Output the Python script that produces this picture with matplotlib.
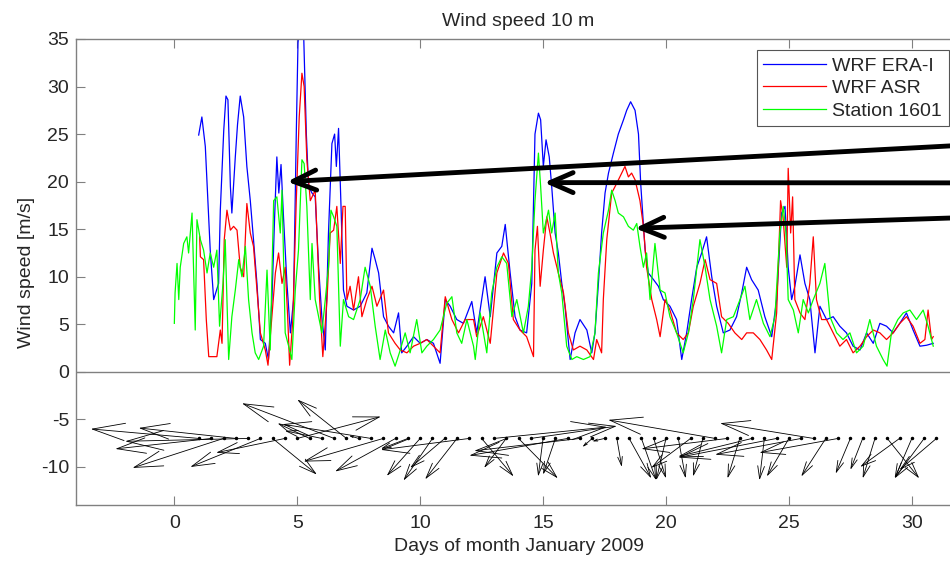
import matplotlib.pyplot as plt
import numpy as np

plt.rcParams['font.family'] = ['Liberation Sans', 'DejaVu Sans']
plt.rcParams['axes.unicode_minus'] = False

# WRF ERA-I (blue)
era_t = [0.99, 1.12, 1.26, 1.46, 1.60, 1.80, 1.87, 2.01, 2.10, 2.18, 2.28, 2.34, 2.48, 2.57, 2.68, 2.82,
         2.95, 3.09, 3.22, 3.36, 3.50, 3.70, 3.83, 3.97, 4.08, 4.17, 4.25, 4.34, 4.44, 4.58, 4.72, 4.85,
         4.96, 5.03, 5.12, 5.26, 5.37, 5.46, 5.60, 5.73, 5.87, 6.00, 6.14, 6.27, 6.41, 6.52, 6.59, 6.68,
         6.78, 6.88, 7.02, 7.29, 7.56, 7.83, 8.04, 8.17, 8.31, 8.51, 8.71, 8.92, 9.12, 9.25, 9.46, 9.73,
         10.00, 10.27, 10.54, 10.81, 11.02, 11.22, 11.49, 11.76, 12.10, 12.30, 12.64, 12.85, 13.12, 13.32,
         13.46, 13.66, 13.86, 14.06, 14.33, 14.54, 14.67, 14.81, 14.90, 15.01, 15.12, 15.25, 15.35, 15.49,
         15.62, 15.76, 15.89, 16.10, 16.30, 16.50, 16.78, 16.98, 17.11, 17.25, 17.38, 17.52, 17.66, 17.86,
         18.06, 18.27, 18.40, 18.56, 18.74, 18.88, 18.97, 19.05, 19.15, 19.28, 19.49, 19.69, 19.89, 20.16,
         20.43, 20.64, 20.84, 21.04, 21.25, 21.45, 21.65, 21.86, 22.06, 22.33, 22.60, 22.87, 23.08, 23.28,
         23.48, 23.75, 24.02, 24.30, 24.50, 24.70, 24.84, 24.97, 25.11, 25.24, 25.45, 25.65, 25.85, 26.06,
         26.26, 26.53, 26.80, 27.07, 27.34, 27.61, 27.89, 28.16, 28.43, 28.70, 28.97, 29.24, 29.51, 29.78,
         30.05, 30.33, 30.60, 30.87]
era_v = [24.9, 26.8, 23.7, 12.8, 7.6, 9.3, 17.0, 25.4, 29.0, 28.6, 19.5, 16.7, 22.6, 26.0, 29.0, 26.8,
         21.6, 18.0, 13.9, 9.3, 3.4, 3.0, 1.3, 7.6, 16.3, 22.6, 18.8, 21.8, 16.3, 9.3, 4.1, 7.6,
         25.0, 34.6, 37.0, 35.5, 25.0, 19.5, 18.8, 18.4, 11.0, 5.8, 2.3, 14.6, 24.0, 25.0, 21.6, 25.6,
         17.4, 8.6, 6.9, 6.5, 6.9, 8.3, 13.0, 11.8, 10.4, 5.8, 4.8, 4.1, 6.2, 2.0, 2.7, 3.7,
         3.0, 3.4, 3.0, 0.9, 7.6, 6.9, 5.5, 5.1, 7.4, 4.1, 10.0, 5.8, 12.5, 13.2,
         15.5, 10.4, 5.8, 4.4, 4.1, 9.3, 25.0, 27.2, 26.5, 21.6, 24.4, 22.6, 19.5, 14.6,
         12.5, 9.3, 6.9, 1.3, 4.1, 5.5, 4.4, 2.0, 4.1, 9.3, 14.6, 18.8, 20.9, 23.0,
         25.0, 26.5, 27.5, 28.4, 27.5, 25.0, 19.8, 16.7, 12.8, 10.4, 9.7, 9.0, 7.6, 6.9,
         5.5, 1.3, 4.1, 7.6, 11.0, 12.5, 14.2, 10.0, 6.9, 4.1, 4.4, 5.8, 8.3, 11.0,
         9.7, 8.6, 5.8, 3.7, 7.6, 16.7, 17.4, 11.0, 7.6, 9.0, 12.3, 9.3, 7.6, 2.0,
         6.9, 5.5, 5.8, 4.8, 4.1, 2.7, 2.3, 4.1, 3.0, 5.1, 4.8, 4.1, 5.1, 6.2,
         4.4, 2.7, 2.8, 3.0]

# WRF ASR (red)
asr_t = [1.03, 1.06, 1.19, 1.30, 1.40, 1.73, 1.87, 1.94, 2.03, 2.14, 2.28, 2.41, 2.55, 2.68, 2.82, 2.95,
         3.09, 3.22, 3.36, 3.50, 3.70, 3.81, 3.97, 4.11, 4.24, 4.38, 4.51, 4.61, 4.69, 4.82, 4.96, 5.08,
         5.19, 5.28, 5.39, 5.53, 5.73, 5.91, 6.04, 6.21, 6.34, 6.48, 6.61, 6.75, 6.86, 6.95, 7.02, 7.15,
         7.29, 7.49, 7.63, 7.83, 8.04, 8.24, 8.51, 8.71, 8.98, 9.19, 9.46, 9.73, 10.00, 10.27, 10.54, 10.81,
         11.02, 11.29, 11.56, 11.83, 12.17, 12.30, 12.57, 12.85, 13.12, 13.39, 13.59, 13.79, 14.06, 14.33,
         14.61, 14.67, 14.77, 14.88, 15.01, 15.15, 15.28, 15.42, 15.62, 15.83, 16.03, 16.23, 16.50, 16.78,
         17.05, 17.18, 17.38, 17.45, 17.59, 17.79, 17.99, 18.20, 18.33, 18.47, 18.60, 18.74, 18.94, 19.08,
         19.21, 19.42, 19.62, 19.76, 19.96, 20.16, 20.43, 20.70, 20.91, 21.11, 21.38, 21.59, 21.79, 22.06,
         22.26, 22.53, 22.80, 23.08, 23.28, 23.55, 23.82, 24.09, 24.30, 24.50, 24.66, 24.76, 24.91, 24.97,
         25.07, 25.15, 25.24, 25.45, 25.65, 25.85, 25.99, 26.12, 26.33, 26.53, 26.80, 27.07, 27.34, 27.61,
         27.89, 28.16, 28.43, 28.70, 28.97, 29.24, 29.51, 29.78, 30.05, 30.33, 30.53, 30.66, 30.80, 30.87]
asr_v = [14.2, 12.1, 11.8, 5.5, 1.6, 1.6, 4.4, 3.0, 13.9, 17.0, 14.9, 15.3, 14.9, 11.0, 10.0, 17.7,
         14.6, 13.2, 8.6, 4.1, 2.3, 0.7, 5.8, 10.4, 12.5, 9.3, 11.0, 5.8, 0.7, 5.5, 18.0, 26.8,
         31.4, 30.0, 22.3, 18.0, 19.1, 7.6, 1.6, 7.6, 14.6, 14.9, 17.4, 11.4, 17.4, 17.4, 7.6, 9.0,
         6.5, 10.0, 5.8, 7.6, 9.0, 6.9, 8.6, 4.1, 3.0, 2.3, 2.0, 2.7, 3.0, 3.4, 2.7, 2.0,
         7.9, 5.5, 4.1, 5.5, 5.5, 3.7, 5.8, 3.0, 10.4, 12.5, 11.4, 5.5, 4.4, 3.7,
         1.6, 12.8, 15.3, 9.0, 12.8, 16.3, 14.6, 12.5, 10.4, 8.3, 4.1, 2.3, 2.7, 2.3,
         1.3, 3.4, 2.0, 7.6, 13.9, 18.8, 19.8, 20.9, 21.6, 20.5, 20.9, 20.2, 18.0, 15.3,
         11.0, 7.6, 5.5, 3.7, 7.6, 6.5, 4.1, 3.4, 4.1, 6.9, 9.3, 11.8, 9.7, 9.3,
         5.8, 5.1, 4.1, 3.4, 4.1, 4.1, 3.4, 2.3, 1.3, 6.2, 18.0, 16.3, 11.0, 21.4,
         14.6, 18.4, 7.6, 6.2, 5.5, 9.3, 14.2, 7.6, 5.5, 5.5, 4.1, 2.7, 3.4, 2.0,
         2.7, 3.7, 4.4, 4.1, 3.4, 4.1, 5.1, 5.8, 4.8, 3.0, 3.4, 6.5, 3.4, 3.7]

# Station 1601 (green)
st_t = [0.00, 0.03, 0.11, 0.18, 0.24, 0.38, 0.51, 0.58, 0.72, 0.85, 0.92, 1.06, 1.19, 1.33, 1.46, 1.60,
        1.73, 1.84, 1.98, 2.07, 2.21, 2.34, 2.48, 2.62, 2.75, 2.89, 3.02, 3.16, 3.29, 3.43, 3.63, 3.77,
        3.90, 4.04, 4.17, 4.31, 4.38, 4.51, 4.65, 4.78, 4.92, 5.05, 5.19, 5.28, 5.39, 5.53, 5.60, 5.73,
        5.87, 6.00, 6.14, 6.27, 6.37, 6.48, 6.61, 6.75, 6.88, 7.09, 7.29, 7.56, 7.76, 7.97, 8.17, 8.37,
        8.58, 8.78, 8.98, 9.19, 9.39, 9.59, 9.86, 10.07, 10.27, 10.54, 10.81, 11.08, 11.29, 11.49, 11.69, 11.90,
        12.17, 12.24, 12.44, 12.71, 12.91, 13.12, 13.32, 13.52, 13.73, 13.93, 14.20, 14.40, 14.54, 14.67,
        14.81, 14.90, 15.01, 15.22, 15.35, 15.49, 15.62, 15.76, 15.96, 16.17, 16.37, 16.64, 16.91, 17.11,
        17.25, 17.45, 17.66, 17.79, 17.93, 18.06, 18.27, 18.47, 18.67, 18.81, 18.94, 19.08, 19.21, 19.35,
        19.55, 19.76, 19.96, 20.16, 20.43, 20.70, 20.91, 21.11, 21.38, 21.59, 21.79, 22.06, 22.26, 22.47,
        22.74, 23.01, 23.21, 23.41, 23.68, 23.96, 24.23, 24.43, 24.63, 24.77, 24.88, 24.97, 25.18, 25.38,
        25.58, 25.79, 25.99, 26.26, 26.46, 26.67, 26.94, 27.20, 27.48, 27.75, 28.02, 28.29, 28.56, 28.83,
        28.99, 29.17, 29.43, 29.65, 29.92, 30.19, 30.46, 30.66, 30.87]
st_v = [5.1, 8.3, 11.4, 7.6, 11.0, 13.5, 14.2, 12.5, 16.7, 4.4, 16.0, 13.9, 12.8, 10.4, 12.5, 11.0,
        12.8, 4.8, 9.3, 13.9, 1.3, 5.8, 8.6, 11.8, 10.0, 13.2, 7.6, 4.1, 2.0, 1.3, 2.7, 10.7,
        2.3, 18.0, 18.4, 14.6, 19.1, 4.1, 2.7, 1.3, 8.6, 12.8, 22.3, 21.9, 17.4, 7.6, 13.5, 7.6,
        5.8, 4.1, 7.6, 11.0, 17.0, 16.3, 15.3, 2.7, 7.6, 5.8, 5.5, 7.6, 11.0, 9.0, 4.8, 1.3,
        4.4, 2.0, 0.6, 2.3, 4.1, 2.0, 5.5, 2.0, 2.7, 3.4, 4.4, 7.2, 7.9, 4.1, 3.0, 5.5,
        2.7, 1.3, 6.2, 2.0, 8.3, 11.0, 12.1, 11.4, 5.8, 7.6, 4.1, 6.9, 11.0, 18.0,
        23.0, 19.5, 14.6, 17.0, 14.6, 16.7, 10.4, 8.3, 2.7, 1.3, 1.6, 1.3, 1.6, 4.1,
        10.4, 14.6, 17.0, 19.1, 18.0, 16.7, 16.3, 15.3, 14.9, 15.6, 13.2, 11.0, 12.5, 7.6,
        13.5, 8.6, 8.3, 5.8, 4.1, 2.0, 4.1, 7.6, 13.9, 11.0, 7.6, 4.8, 2.0, 5.5,
        5.8, 7.6, 9.0, 5.5, 7.6, 5.1, 3.7, 5.8, 14.6, 17.4, 14.6, 7.6, 6.5, 4.1,
        7.6, 6.2, 7.6, 9.3, 11.4, 5.8, 4.1, 3.4, 4.1, 2.0, 2.7, 5.5, 2.7, 1.3,
        0.6, 4.1, 5.5, 6.2, 6.5, 5.5, 6.5, 4.8, 2.7]

# wind vectors every 12 h (drawn around y = -7)
wind_day = [1.0, 1.5, 2.0, 2.5, 3.0, 3.5, 4.0, 4.5, 5.0, 5.5, 6.0, 6.5, 7.0, 7.5, 8.0, 8.5,
            9.0, 9.5, 10.0, 10.5, 11.0, 11.5, 12.0, 12.5, 13.0, 13.5, 14.0, 14.5, 15.0, 15.5, 16.0, 16.5,
            17.0, 17.5, 18.0, 18.5, 19.0, 19.5, 20.0, 20.5, 21.0, 21.5, 22.0, 22.5, 23.0, 23.5, 24.0, 24.5,
            25.0, 25.5, 26.0, 26.5, 27.0, 27.5, 28.0, 28.5, 29.0, 29.5, 30.0, 30.5, 31.0]
wind_u = [-4.4, -3.9, -3.7, -3.95, -5.0, -2.85, 1.8, -2.8, 3.4, -1.3, -1.5, -3.75, -2.0, -0.4, -3.6, -3.24,
          -2.46, -1.1, -1.36, -1.18, -1.41, -1.3, -3.6, 1.3, 4.6, -0.9, 1.6, 3.5, -0.2, -0.5, -4.0, -4.3,
          -0.4, -0.5, 0.2, 0.9, 0.6, 0.5, -0.4, 0.3, -1.6, -0.4, -4.35, -3.5, -0.5, -3.0, -0.2, -4.0,
          -0.9, -3.5, -3.8, -1.0, -3.2, -0.6, -0.5, -0.5, 1.3, -1.6, -0.7, -1.2, -1.5]
wind_v = [1.0, -1.1, -3.1, 1.1, -0.3, -3.0, -3.8, -1.5, 2.3, 1.6, 0.8, 3.7, 4.1, 0.3, 1.5, -2.43,
          -3.48, -1.1, -3.94, -4.43, -3.1, -4.3, -1.2, -4.0, 1.2, -3.1, -4.2, 1.3, -4.0, -3.8, -1.8, -1.3,
          -0.9, -0.3, -3.0, -4.2, -4.4, -4.2, -4.4, -4.2, -3.1, -4.0, 1.95, -1.1, -4.2, -1.9, -4.4, -2.0,
          -4.0, -1.7, 1.6, -4.0, -1.5, -3.7, -3.3, -4.2, -4.2, -3.0, -4.2, -4.2, -3.3]
wind_base = -7

# annotation arrows (tip in data coords, tail at right figure edge)
note_day = [4.59, 15.04, 18.74]
note_val = [20.0, 19.9, 15.1]
note_tail_y = [0.741, 0.674, 0.612]

grey = '#808080'
txt = '#262626'
fs = 14

fig = plt.figure(figsize=(9.5, 5.61), dpi=100)
ax = fig.add_axes([0.08, 0.0998, 0.9316, 0.8307])

ax.plot(era_t, era_v, color='#0000ff', lw=0.9, label='WRF ERA-I')
ax.plot(asr_t, asr_v, color='#ff0000', lw=0.9, label='WRF ASR')
ax.plot(st_t, st_v, color='#00ff00', lw=0.9, label='Station 1601')
ax.axhline(0, color=grey, lw=1.0)

ax.set_xlim(-4, 32)
ax.set_ylim(-14, 35)
ax.set_xticks(range(0, 31, 5))
ax.set_yticks(range(-10, 36, 5))

# quiver-like arrows with open heads (matlab style)
sx, sy = ax.transData.transform((1, 1)) - ax.transData.transform((0, 0))
ax.plot(wind_day, [wind_base] * len(wind_day), 'k.', ms=3)
for d, u, v in zip(wind_day, wind_u, wind_v):
    L = np.hypot(u * sx, v * sy) * 0.72
    ax.annotate('', xy=(d + u, wind_base + v), xytext=(d, wind_base),
                arrowprops=dict(arrowstyle='->,head_length=%.2f,head_width=%.2f' % (0.3 * L, 0.08 * L),
                                mutation_scale=1, lw=0.6, color='k', shrinkA=0, shrinkB=0))

for d, val, ty in zip(note_day, note_val, note_tail_y):
    ax.annotate('', xy=(d, val), xycoords='data', xytext=(1.012, ty), textcoords='figure fraction',
                arrowprops=dict(arrowstyle='->,head_length=16.5,head_width=7.2', mutation_scale=1,
                                lw=3.5, color='k', shrinkA=0, shrinkB=0),
                annotation_clip=False)

for s in ax.spines.values():
    s.set_color(grey)
    s.set_linewidth(1.0)
ax.tick_params(direction='in', length=6.5, width=0.8, color=grey, labelcolor=txt,
               labelsize=fs, top=True, right=True)
ax.tick_params(axis='x', pad=7.2)
ax.tick_params(axis='y', pad=5)

ax.set_title('Wind speed 10 m', fontsize=fs, color=txt, pad=9)
ax.set_xlabel('Days of month January 2009', fontsize=fs, color=txt, labelpad=4.3)
ax.set_ylabel('Wind speed [m/s]', fontsize=fs, color=txt, labelpad=4)

leg = ax.legend(loc='upper right', bbox_to_anchor=(0.9864, 0.976), borderaxespad=0, fontsize=fs,
                handlelength=3.2, handletextpad=0.35, labelspacing=0.25, borderpad=0.35,
                fancybox=False, framealpha=1)
leg.get_frame().set_edgecolor('#555555')
leg.get_frame().set_linewidth(0.8)
for t in leg.get_texts():
    t.set_color(txt)

fig.savefig('out.png', dpi=100)
